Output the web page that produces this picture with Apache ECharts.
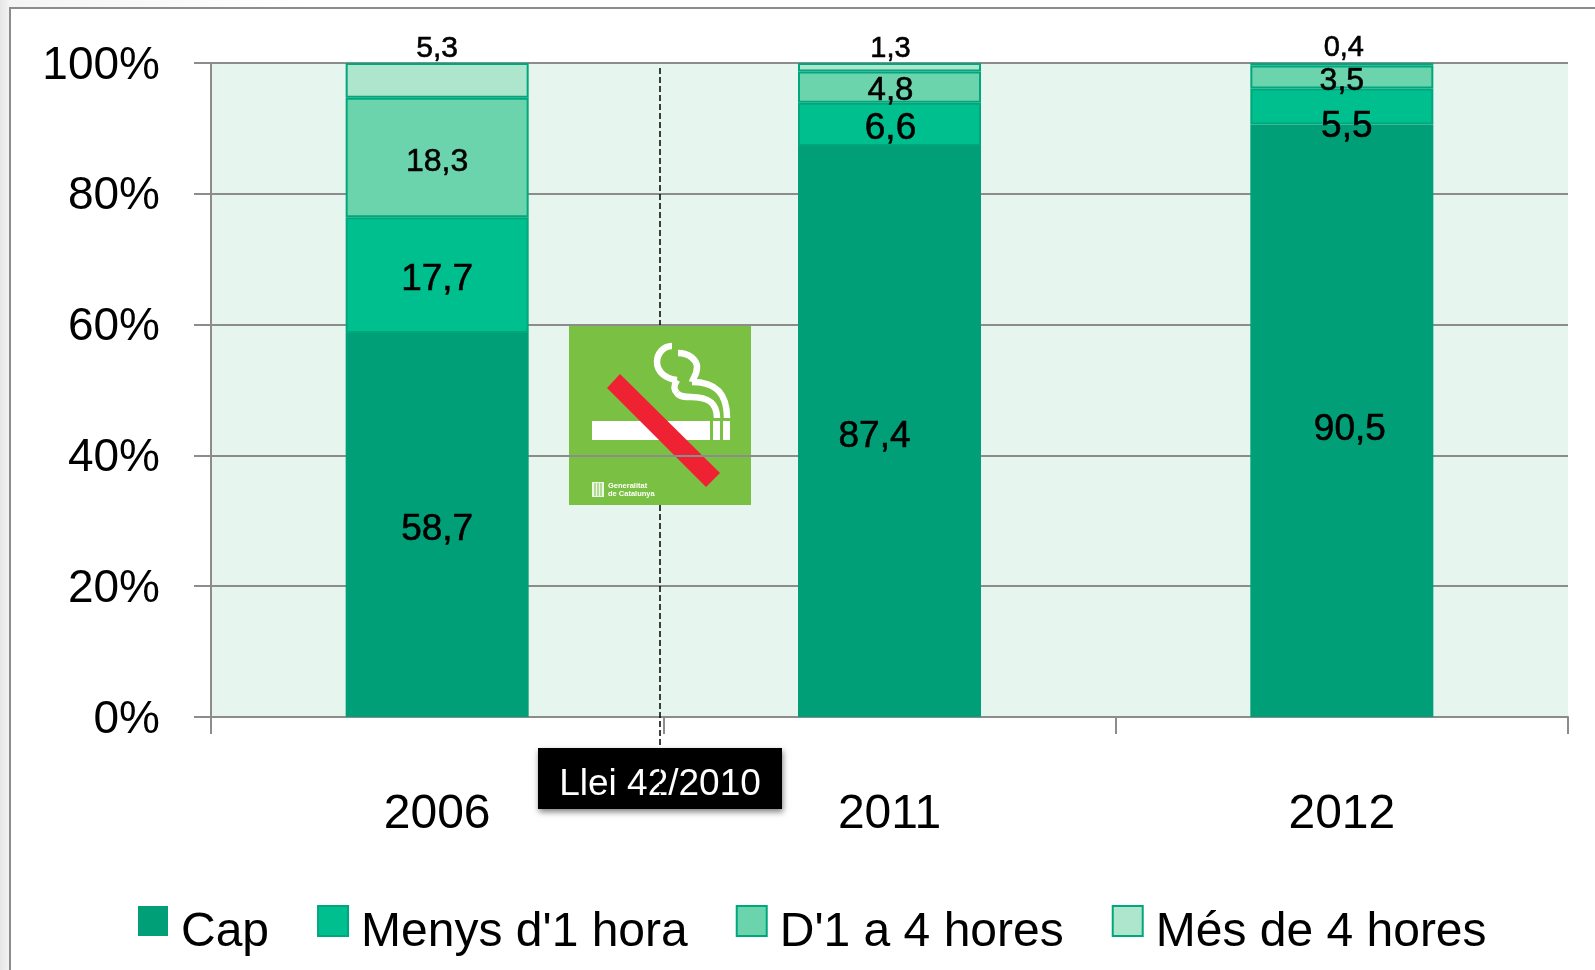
<!DOCTYPE html>
<html>
<head>
<meta charset="utf-8">
<style>
  html, body { margin: 0; padding: 0; background: #fff; }
  #chart { width: 1595px; height: 970px; }
</style>
<script src="https://cdn.jsdelivr.net/npm/echarts@6/dist/echarts.min.js"></script>
</head>
<body>
<div id="chart"></div>
<script>
const years = ['2006', '2011', '2012']
const seriesNames = ['Cap', "Menys d'1 hora", "D'1 a 4 hores", 'Més de 4 hores']
const cap = [58.7, 87.4, 90.5]
const menysUnaHora = [17.7, 6.6, 5.5]
const unaQuatreHores = [18.3, 4.8, 3.5]
const mesQuatreHores = [5.3, 1.3, 0.4]
const yTicks = [0, 20, 40, 60, 80, 100]
const lawLabel = 'Llei 42/2010'

const colors = ['#009f77', '#00bf8e', '#6cd4ac', '#aee5cd']
const font = '"Liberation Sans", Arial, sans-serif'
const lineGrey = '#8c8c8c'

// data labels were placed by hand in the original, so each one has its own size and shift
const labelSizes = [
  [37, 37, 37],
  [37, 37, 37],
  [32, 33, 32],
  [30, 29, 29]
]
const labelShifts = [
  [[0, 5], [-15, 5], [8, 9]],
  [[0, 5], [1, 4], [5, 20]],
  [[0, 5], [1, 4], [0, 4]],
  [[0, -32], [1, -18], [2, -16]]
]

const rows = [cap, menysUnaHora, unaQuatreHores, mesQuatreHores]
// the columns are 100% stacked, the rounded values do not always add up to 100
const totals = years.map((y, i) => rows.reduce((sum, row) => sum + row[i], 0))

const series = rows.map((row, s) => ({
  name: seriesNames[s],
  type: 'bar',
  stack: 'total',
  barWidth: 183,
  itemStyle: { color: colors[s], borderColor: s === 0 ? colors[0] : '#00a67c', borderWidth: s === 0 ? 0 : 2 },
  data: row.map((v, i) => ({
    value: v / totals[i] * 100,
    label: {
      show: true,
      position: 'inside',
      formatter: v.toFixed(1).replace('.', ','),
      fontSize: labelSizes[s][i],
      fontFamily: font,
      color: '#000',
      textBorderColor: '#000',
      textBorderWidth: 0.6,
      offset: labelShifts[s][i]
    }
  }))
}))

// the smoke of the sign: x1, y1, cpx1, cpy1, cpx2, cpy2, x2, y2
const smokeCurves = [
  [103, 21, 94, 21, 88, 29, 88, 37],
  [88, 37, 88, 47, 97, 54, 108, 55],
  [108, 55, 105, 60, 104, 64, 108, 68],
  [108, 68, 111, 72, 116, 72, 122, 72],
  [122, 72, 137, 72, 148, 76, 148, 93],
  [109, 28, 120, 28, 128, 35, 128, 42],
  [128, 42, 128, 50, 124, 53, 123, 57],
  [123, 57, 140, 57, 158, 62, 158, 93]
]

// no-smoking sign, drawn inside a 182x180 square
const sign = {
  type: 'group',
  x: 569,
  y: 325,
  z: 20,
  children: [
    { type: 'rect', shape: { x: 0, y: 0, width: 182, height: 180 }, style: { fill: '#7ac143' } },
    { type: 'rect', shape: { x: 23, y: 96, width: 118, height: 19 }, style: { fill: '#fff' } },
    { type: 'rect', shape: { x: 144, y: 96, width: 7, height: 19 }, style: { fill: '#fff' } },
    { type: 'rect', shape: { x: 154, y: 96, width: 7, height: 19 }, style: { fill: '#fff' } }
  ].concat(smokeCurves.map(c => ({
    type: 'bezierCurve',
    shape: { x1: c[0], y1: c[1], cpx1: c[2], cpy1: c[3], cpx2: c[4], cpy2: c[5], x2: c[6], y2: c[7] },
    style: { fill: null, stroke: '#fff', lineWidth: 6.5 }
  }))).concat([
    {
      type: 'polygon',
      shape: { points: [[51, 49], [151, 148], [137, 162], [38, 63]] },
      style: { fill: '#ef2233' }
    },
    { type: 'rect', shape: { x: 23, y: 157, width: 12, height: 15 }, style: { fill: '#fff', opacity: 0.85 } },
    { type: 'line', shape: { x1: 26, y1: 158, x2: 26, y2: 171 }, style: { stroke: '#7ac143', lineWidth: 1 } },
    { type: 'line', shape: { x1: 29, y1: 158, x2: 29, y2: 171 }, style: { stroke: '#7ac143', lineWidth: 1 } },
    { type: 'line', shape: { x1: 32, y1: 158, x2: 32, y2: 171 }, style: { stroke: '#7ac143', lineWidth: 1 } },
    {
      type: 'text',
      x: 39,
      y: 157,
      style: { text: 'Generalitat\nde Catalunya', fill: '#fff', font: 'bold 7.5px "Liberation Sans"', lineHeight: 8 }
    }
  ])
}

const option = {
  animation: false,
  backgroundColor: '#fff',
  textStyle: { fontFamily: font },
  color: colors,
  legend: {
    data: seriesNames,
    left: 138,
    top: 905,
    padding: 0,
    icon: 'rect',
    itemWidth: 30,
    itemHeight: 30,
    itemGap: 48,
    // rich token so the padding really moves the text below the swatch centre
    formatter: name => `{t|${name}}`,
    textStyle: {
      rich: { t: { fontSize: 48, fontFamily: font, color: '#000', padding: [24, 0, 0, 8] } }
    }
  },
  grid: {
    left: 211,
    right: 27,
    top: 63,
    bottom: 253,
    show: true,
    backgroundColor: '#e6f5ee',
    borderWidth: 0
  },
  xAxis: {
    type: 'category',
    data: years,
    axisLine: { lineStyle: { color: lineGrey, width: 2 } },
    axisTick: { show: true, length: 17, lineStyle: { color: lineGrey, width: 2 } },
    axisLabel: { fontSize: 48, fontFamily: font, color: '#000', margin: 74 }
  },
  yAxis: {
    type: 'value',
    min: 0,
    max: 100,
    interval: yTicks[1] - yTicks[0],
    axisLine: { show: true, lineStyle: { color: lineGrey, width: 2 } },
    axisTick: { show: true, length: 17, lineStyle: { color: lineGrey, width: 2 } },
    splitLine: { lineStyle: { color: lineGrey, width: 2 } },
    axisLabel: {
      margin: 51,
      formatter: v => `{t|${v}%}`,
      rich: { t: { fontSize: 46, fontFamily: font, color: '#000', padding: [6, 0, 0, 0] } }
    }
  },
  series: series,
  graphic: [
    // slide frame and the soft shadow outside it
    {
      type: 'rect',
      z: -10,
      silent: true,
      shape: { x: 0, y: 0, width: 1595, height: 970 },
      style: {
        fill: { type: 'linear', x: 0, y: 0, x2: 1, y2: 0, colorStops: [{ offset: 0, color: '#e6e6e6' }, { offset: 0.006, color: '#f4f4f4' }, { offset: 0.2, color: '#fff' }] }
      }
    },
    {
      type: 'rect',
      z: -9,
      silent: true,
      shape: { x: 10, y: 8, width: 1600, height: 1000 },
      style: { fill: '#fff', stroke: lineGrey, lineWidth: 2 }
    },
    sign,
    {
      type: 'rect',
      z: 20,
      shape: { x: 538, y: 748, width: 244, height: 61 },
      style: { fill: '#000', shadowBlur: 6, shadowColor: 'rgba(0,0,0,0.5)', shadowOffsetY: 3, shadowOffsetX: 1 }
    },
    {
      type: 'text',
      z: 21,
      x: 660,
      y: 785,
      style: { text: lawLabel, fill: '#fff', font: '37px "Liberation Sans"', textAlign: 'center', textVerticalAlign: 'middle' }
    },
    {
      type: 'line',
      z: 19,
      shape: { x1: 660, y1: 68, x2: 660, y2: 325 },
      style: { stroke: '#000', lineWidth: 1.5, lineDash: [6, 3] }
    },
    {
      type: 'line',
      z: 22,
      shape: { x1: 660, y1: 505, x2: 660, y2: 795 },
      style: { stroke: '#000', lineWidth: 1.5, lineDash: [6, 3] }
    }
  ]
}

const chart = echarts.init(document.getElementById('chart'), null, { renderer: 'canvas', width: 1595, height: 970 })
chart.setOption(option)
</script>
</body>
</html>
